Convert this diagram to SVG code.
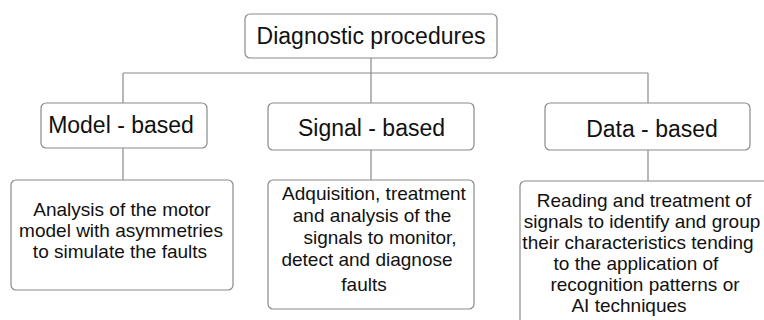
<svg xmlns="http://www.w3.org/2000/svg" width="764" height="320" viewBox="0 0 764 320">
<style>
.box{fill:#fff;stroke:#8a8a8a;stroke-width:1.2}
.ln{fill:none;stroke:#8a8a8a;stroke-width:1.2}
.h{font-family:"Liberation Sans",Arial,sans-serif;font-size:23px;fill:#111}
.b{font-family:"Liberation Sans",Arial,sans-serif;font-size:19px;fill:#111}
</style>
<rect width="764" height="320" fill="#fff"/>
<g id="connectors">
<path class="ln" d="M371 58V103M123 73H648M123 73V103M648 73V103M123 148V180M371 150V180M648 150V181"/>
</g>
<g id="root">
<rect class="box" x="245" y="14" width="252" height="44" rx="5"/>
<text class="h" x="371" y="44" text-anchor="middle">Diagnostic procedures</text>
</g>
<g id="model">
<rect class="box" x="41" y="103" width="166" height="45" rx="5"/>
<text class="h" x="121" y="133" text-anchor="middle">Model - based</text>
</g>
<g id="signal">
<rect class="box" x="268" y="103" width="206" height="47" rx="5"/>
<text class="h" x="371.5" y="136" text-anchor="middle">Signal - based</text>
</g>
<g id="data">
<rect class="box" x="545" y="103" width="205" height="47" rx="5"/>
<text class="h" x="652" y="137" text-anchor="middle">Data - based</text>
</g>
<g id="model-desc">
<rect class="box" x="11" y="180" width="222" height="110" rx="5"/>
<text class="b" text-anchor="middle"><tspan x="122" y="216">Analysis of the motor</tspan><tspan x="121" y="237">model with asymmetries</tspan><tspan x="120" y="258">to simulate the faults</tspan></text>
</g>
<g id="signal-desc">
<rect class="box" x="268" y="180" width="206" height="129" rx="5"/>
<text class="b" text-anchor="middle"><tspan x="374" y="200">Adquisition, treatment</tspan><tspan x="372" y="222">and analysis of the</tspan><tspan x="380" y="244">signals to monitor,</tspan><tspan x="367" y="266">detect and diagnose</tspan><tspan x="364" y="291">faults</tspan></text>
</g>
<g id="data-desc">
<rect class="box" x="520" y="181" width="260" height="150" rx="5"/>
<text class="b" text-anchor="middle"><tspan x="644" y="207">Reading and treatment of</tspan><tspan x="642" y="228">signals to identify and group</tspan><tspan x="638" y="249">their characteristics tending</tspan><tspan x="636" y="270">to the application of</tspan><tspan x="645" y="291">recognition patterns or</tspan><tspan x="629" y="312">AI techniques</tspan></text>
</g>
</svg>
